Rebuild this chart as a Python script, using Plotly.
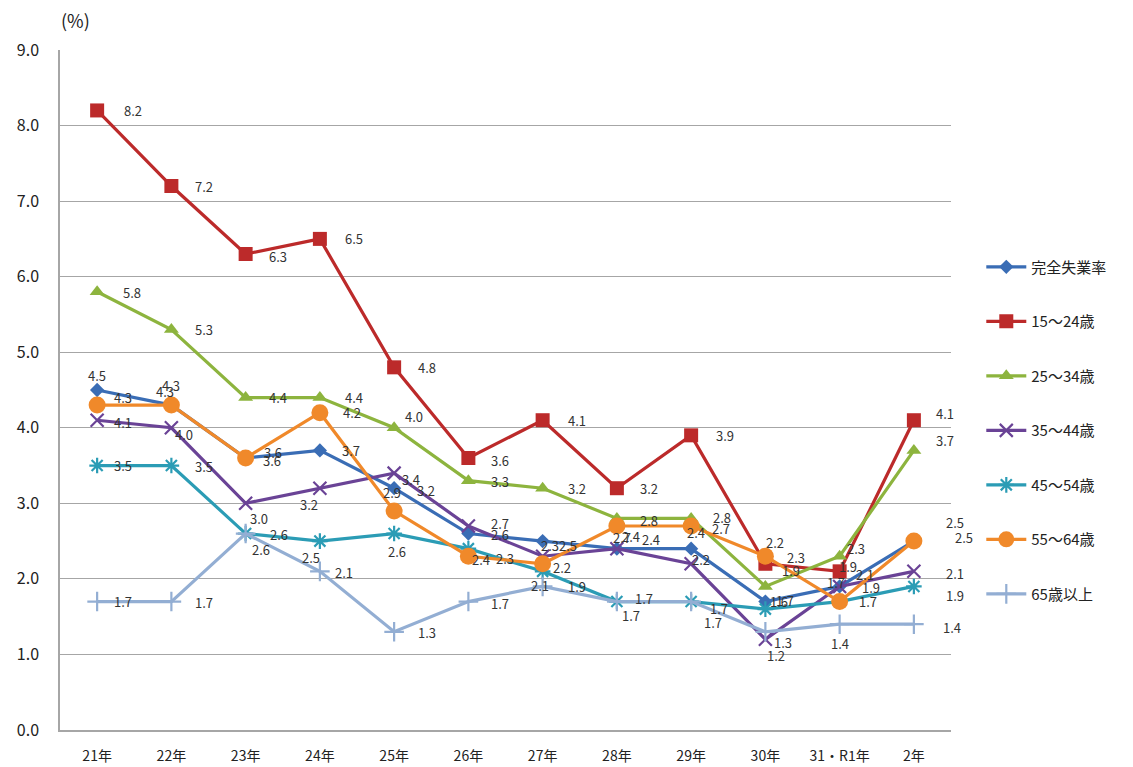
import plotly.graph_objects as go

# ---- data ----
years = ["21年", "22年", "23年", "24年", "25年", "26年", "27年", "28年", "29年", "30年", "31・R1年", "2年"]
series_names = ["完全失業率", "15～24歳", "25～34歳", "35～44歳", "45～54歳", "55～64歳", "65歳以上"]
rate_total = [4.5, 4.3, 3.6, 3.7, 3.2, 2.6, 2.5, 2.4, 2.4, 1.7, 1.9, 2.5]
rate_15_24 = [8.2, 7.2, 6.3, 6.5, 4.8, 3.6, 4.1, 3.2, 3.9, 2.2, 2.1, 4.1]
rate_25_34 = [5.8, 5.3, 4.4, 4.4, 4.0, 3.3, 3.2, 2.8, 2.8, 1.9, 2.3, 3.7]
rate_35_44 = [4.1, 4.0, 3.0, 3.2, 3.4, 2.7, 2.3, 2.4, 2.2, 1.2, 1.9, 2.1]
rate_45_54 = [3.5, 3.5, 2.6, 2.5, 2.6, 2.4, 2.1, 1.7, 1.7, 1.6, 1.7, 1.9]
rate_55_64 = [4.3, 4.3, 3.6, 4.2, 2.9, 2.3, 2.2, 2.7, 2.7, 2.3, 1.7, 2.5]
rate_65_up = [1.7, 1.7, 2.6, 2.1, 1.3, 1.7, 1.9, 1.7, 1.7, 1.3, 1.4, 1.4]
all_values = [rate_total, rate_15_24, rate_25_34, rate_35_44, rate_45_54, rate_55_64, rate_65_up]

# ---- styles ----
FONT = "Noto Sans CJK JP"
colors = ["#3A6DB5", "#BC2A2A", "#8DB43E", "#6A4396", "#2B9CB5", "#F0892A", "#93AED3"]
markers = [
    dict(symbol="diamond", size=11),
    dict(symbol="square", size=14),
    dict(symbol="triangle-up", size=13),
    dict(symbol="x-thin", size=13, line=dict(width=2.2)),
    dict(symbol="asterisk", size=13, line=dict(width=2.2)),
    dict(symbol="circle", size=17),
    dict(symbol="cross-thin", size=14, line=dict(width=2.2)),
]
# label offsets in pixels (dx right, dy up) for each point of each series
label_offsets = [
    [(0, 15), (-6, 14), (27, 6), (31, 0), (32, -2), (32, -1), (25, -4), (34, 9), (5, 16), (20, 1), (8, 20), (41, 19)],
    [(36, 0), (33, 0), (32, -2), (34, 0), (33, 0), (32, -2), (34, 0), (32, 0), (34, 0), (10, 21), (25, -3), (31, 7)],
    [(35, -1), (33, 0), (32, 0), (34, 0), (20, 11), (32, -1), (34, 0), (32, -2), (31, 1), (26, 16), (16, 8), (31, 10)],
    [(26, -2), (13, -7), (13, -15), (-11, -16), (17, -6), (32, 3), (7, 11), (14, 12), (10, 4), (11, -16), (31, -1), (41, -2)],
    [(26, 0), (33, -1), (33, -1), (-9, -16), (3, -18), (13, -11), (-3, -14), (27, 3), (28, -7), (14, 8), (-4, 19), (41, -9)],
    [(26, 8), (0, 20), (26, -2), (32, 0), (-2, 18), (37, -2), (19, -4), (5, -11), (30, -2), (31, -1), (28, 0), (50, 4)],
    [(26, 0), (33, -1), (15, -16), (24, -1), (33, -1), (32, -2), (34, 0), (14, -14), (22, -21), (18, -11), (0, -19), (38, -3)],
]

fig = go.Figure()
annotations = []
for i, (name, vals) in enumerate(zip(series_names, all_values)):
    mk = dict(markers[i])
    mk["color"] = colors[i]
    if "line" in mk:
        mk["line"] = dict(mk["line"], color=colors[i])
    fig.add_trace(go.Scatter(
        x=years, y=vals, name=name, mode="lines+markers",
        line=dict(color=colors[i], width=3.2),
        marker=mk, legendgroup=name,
    ))
    for j, v in enumerate(vals):
        dx, dy = label_offsets[i][j]
        annotations.append(dict(
            x=years[j], y=v, xref="x", yref="y", text=f"{v:.1f}",
            showarrow=False, xshift=dx, yshift=dy,
            xanchor="center", yanchor="middle",
            font=dict(family=FONT, size=13, color="#333333"),
        ))

annotations.append(dict(
    x=0, y=1, xref="paper", yref="paper", text="(%)", showarrow=False,
    xanchor="center", yanchor="middle", xshift=15, yshift=30,
    font=dict(family=FONT, size=18, color="#222222"),
))

fig.update_layout(
    width=1133, height=767,
    margin=dict(l=60, r=182, t=50, b=37),
    paper_bgcolor="white", plot_bgcolor="white",
    font=dict(family=FONT, color="#222222"),
    annotations=annotations,
    legend=dict(
        x=1.034, y=0.705, xanchor="left", yanchor="top",
        font=dict(family=FONT, size=15, color="#222222"),
        tracegroupgap=32, itemwidth=40,
        bgcolor="rgba(0,0,0,0)",
    ),
    showlegend=True,
)
fig.update_xaxes(
    type="category", range=[-0.5, 11.5],
    showline=True, linecolor="#A6A6A6", linewidth=1.5,
    showgrid=False, ticks="", automargin=False,
    ticklabelstandoff=12,
    tickfont=dict(family=FONT, size=14, color="#222222"),
)
fig.update_yaxes(
    range=[0, 9], dtick=1, tickformat=".1f",
    showgrid=True, gridcolor="#A6A6A6", gridwidth=1,
    showline=True, linecolor="#A6A6A6", linewidth=1.5,
    zeroline=False, ticks="", automargin=False,
    ticklabelstandoff=16,
    tickfont=dict(family=FONT, size=16, color="#222222"),
)

fig.write_html("out.html")
